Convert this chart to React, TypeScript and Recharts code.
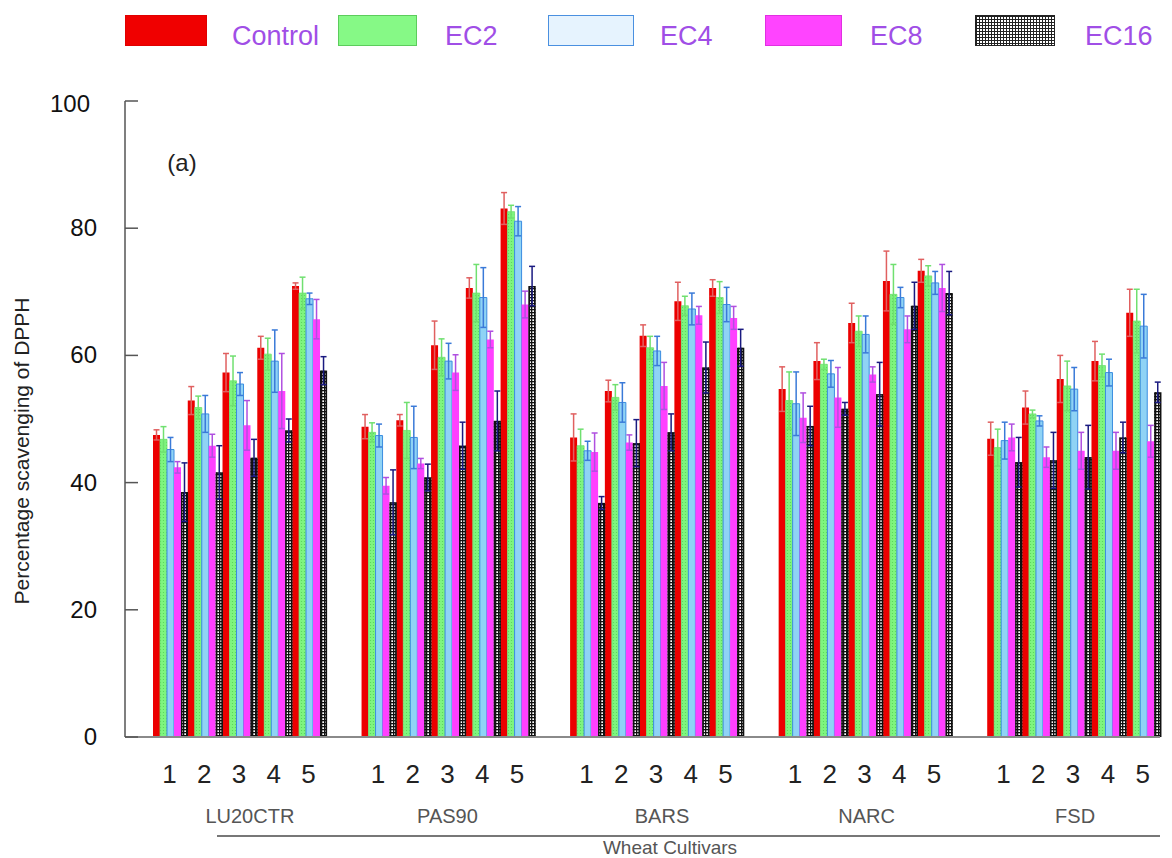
import React from "react";
import { BarChart, Bar, XAxis, YAxis, ErrorBar, Label } from "recharts";

const cultivars = ["LU20CTR", "PAS90", "BARS", "NARC", "FSD"];
const levels = ["1", "2", "3", "4", "5"];
const yTicks = [0, 20, 40, 60, 80, 100];

// values in cultivar order, levels 1..5 inside each cultivar
const control = [47.5, 52.9, 57.3, 61.2, 70.9, 48.8, 49.8, 61.6, 70.6, 83.1, 47.1, 54.4, 63.1, 68.5, 70.6, 54.7, 59.1, 65.1, 71.7, 73.3, 46.9, 51.8, 56.3, 59.1, 66.7];
const ec2 = [46.8, 51.8, 56.0, 60.2, 69.8, 47.9, 48.2, 59.7, 69.8, 82.6, 45.8, 53.4, 61.2, 67.8, 69.1, 52.9, 58.6, 63.8, 69.6, 72.5, 45.5, 50.8, 55.2, 58.4, 65.4];
const ec4 = [45.2, 50.8, 55.5, 59.1, 68.9, 47.4, 47.1, 59.1, 69.1, 81.1, 45.0, 52.6, 60.7, 67.3, 68.0, 52.4, 57.1, 63.3, 69.1, 71.4, 46.6, 49.7, 54.7, 57.3, 64.6];
const ec8 = [42.4, 45.8, 49.0, 54.4, 65.7, 39.5, 43.0, 57.3, 62.5, 68.0, 44.8, 46.3, 55.2, 66.3, 65.9, 50.2, 53.4, 57.0, 64.1, 70.6, 47.1, 44.0, 45.0, 45.0, 46.5];
const ec16 = [38.5, 41.6, 43.9, 48.2, 57.6, 36.9, 40.8, 45.8, 49.7, 70.9, 36.8, 46.2, 47.9, 58.1, 61.2, 48.9, 51.6, 53.9, 67.8, 69.8, 43.2, 43.5, 44.0, 47.1, 54.2];

const controlErr = [0.8, 2.2, 3.0, 1.8, 0.5, 1.9, 0.9, 3.8, 1.6, 2.5, 3.7, 1.7, 1.7, 3.0, 1.3, 3.5, 2.9, 3.1, 4.7, 1.8, 2.6, 2.6, 3.7, 3.1, 3.7];
const ec2Err = [2.0, 1.8, 3.9, 2.5, 2.5, 1.5, 4.4, 2.9, 4.5, 1.0, 2.6, 2.0, 1.8, 1.5, 2.5, 4.5, 0.8, 2.4, 4.7, 1.6, 2.9, 0.6, 3.9, 1.8, 5.0];
const ec4Err = [1.9, 2.9, 1.8, 4.9, 0.9, 1.8, 4.9, 2.8, 4.7, 2.3, 1.5, 3.1, 2.3, 2.5, 2.7, 5.0, 2.1, 2.9, 1.6, 1.8, 2.9, 0.8, 3.4, 2.1, 5.0];
const ec8Err = [0.9, 1.8, 3.9, 5.9, 3.1, 1.3, 0.8, 2.8, 1.3, 2.1, 3.0, 1.2, 3.7, 1.4, 1.8, 3.9, 4.7, 1.2, 2.1, 3.7, 2.1, 1.6, 2.9, 2.9, 2.5];
const ec16Err = [4.6, 4.2, 2.9, 1.8, 2.2, 5.1, 2.1, 3.7, 4.7, 3.1, 1.0, 3.7, 2.9, 4.0, 2.9, 3.1, 1.0, 5.0, 3.7, 3.4, 3.9, 4.4, 5.0, 2.4, 1.6];

// small nudges for the cultivar names under the axis
const groupLabelDx = [11, 0, 6, 2, 2];

const rows: any[] = [];
cultivars.forEach((c, g) => {
  levels.forEach((lv, l) => {
    const i = g * levels.length + l;
    rows.push({
      key: `${c}-${lv}`,
      level: lv,
      group: l === 2 ? g : -1,
      control: control[i],
      ec2: ec2[i],
      ec4: ec4[i],
      ec8: ec8[i],
      ec16: ec16[i],
      controlErr: controlErr[i],
      ec2Err: ec2Err[i],
      ec4Err: ec4Err[i],
      ec8Err: ec8Err[i],
      ec16Err: ec16Err[i],
    });
  });
  // empty slot between cultivars
  if (g < cultivars.length - 1) rows.push({ key: `gap-${g}`, level: "", group: -1 });
});

const XTick = (props: any) => {
  const { x, y, payload } = props;
  const row = rows[payload.index];
  if (!row) return null;
  return (
    <g>
      <text x={x} y={y + 46} textAnchor="middle" fontSize={26} fill="#222">
        {row.level}
      </text>
      {row.group >= 0 && (
        <text x={x + groupLabelDx[row.group]} y={y + 86} textAnchor="middle" fontSize={20} fill="#555">
          {cultivars[row.group]}
        </text>
      )}
    </g>
  );
};

const YTick = (props: any) => {
  const { x, y, payload } = props;
  const top = payload.value === 100;
  return (
    <g>
      <line x1={x + 28} x2={x + 41} y1={y} y2={y} stroke="#555" strokeWidth={1.5} />
      <text x={top ? x - 7 : x} y={y} dy={top ? 11 : 8} textAnchor="end" fontSize={24} fill="#111">
        {payload.value}
      </text>
    </g>
  );
};

const YTitle = (props: any) => {
  const { viewBox } = props;
  const cy = viewBox.y + viewBox.height / 2 + 32;
  return (
    <g>
      <text transform={`translate(29, ${cy}) rotate(-90)`} textAnchor="middle" fontSize={21} fill="#222">
        Percentage scavenging of DPPH
      </text>
      <text x={viewBox.x + viewBox.width + 57} y={viewBox.y + 70} textAnchor="middle" fontSize={24} fill="#222">
        (a)
      </text>
    </g>
  );
};

const XTitle = (props: any) => {
  const { viewBox } = props;
  return (
    <g>
      <line x1={viewBox.x + 92} x2={viewBox.x + viewBox.width} y1={viewBox.y + 99} y2={viewBox.y + 99} stroke="#777" strokeWidth={2} />
      <text x={670} y={viewBox.y + 117} textAnchor="middle" fontSize={19} fill="#555">
        Wheat Cultivars
      </text>
    </g>
  );
};

const GridBar = (props: any) => {
  const { x, y, width, height } = props;
  if (!height || height <= 0) return null;
  return (
    <g>
      <rect x={x} y={y} width={width} height={height} fill="url(#gridPat)" />
      <rect x={x + 0.7} y={y + 0.7} width={width - 1.4} height={height - 1.4} fill="none" stroke="#111" strokeWidth={1.5} />
    </g>
  );
};

const legendItems = [
  { name: "Control", left: 125, w: 82, textLeft: 232, style: { background: "#f00000", border: "1px solid #e00000" } },
  { name: "EC2", left: 338, w: 79, textLeft: 445, style: { background: "#86f986", border: "1px solid #5ccc5c" } },
  { name: "EC4", left: 548, w: 86, textLeft: 660, style: { background: "#e6f3fe", border: "1.5px solid #4a90e0" } },
  { name: "EC8", left: 765, w: 77, textLeft: 870, style: { background: "#ff44ff", border: "1px solid #e030e0" } },
  {
    name: "EC16",
    left: 975,
    w: 80,
    textLeft: 1085,
    style: {
      backgroundColor: "#fff",
      backgroundImage: "linear-gradient(#222 1px, transparent 1px), linear-gradient(90deg, #222 1px, transparent 1px)",
      backgroundSize: "3px 3px",
      border: "1px solid #222",
    },
  },
];

export default function App() {
  return (
    <div style={{ position: "absolute", left: 0, top: 0, width: 1172, height: 858, background: "#fff", fontFamily: "'Liberation Sans', Arial, sans-serif" }}>
      {legendItems.map((it) => (
        <React.Fragment key={it.name}>
          <div style={{ position: "absolute", left: it.left, top: 15, width: it.w, height: 31, boxSizing: "border-box", ...it.style }} />
          <div style={{ position: "absolute", left: it.textLeft, top: 21, fontSize: 27, color: "#a04ee6", lineHeight: "30px" }}>{it.name}</div>
        </React.Fragment>
      ))}
      <BarChart
        width={1172}
        height={858}
        data={rows}
        margin={{ top: 101, right: 12, bottom: 0, left: 0 }}
        barCategoryGap={1}
        barGap={0}
      >
        <defs>
          <pattern id="gridPat" width="3" height="3" patternUnits="userSpaceOnUse">
            <rect width="3" height="3" fill="#fff" />
            <rect width="3" height="1.3" fill="#111" />
            <rect width="1.3" height="3" fill="#111" />
          </pattern>
          <pattern id="dotPat" width="3" height="3" patternUnits="userSpaceOnUse">
            <rect width="3" height="3" fill="#7ef57e" />
            <circle cx="1.5" cy="1.5" r="0.6" fill="#56d456" />
          </pattern>
        </defs>
        <XAxis
          dataKey="key"
          height={121}
          interval={0}
          tickLine={false}
          tickSize={0}
          tickMargin={0}
          tick={<XTick />}
          axisLine={{ stroke: "#8a8a8a", strokeWidth: 2 }}
          padding={{ left: 27, right: 0 }}
        >
          <Label content={<XTitle />} />
        </XAxis>
        <YAxis
          width={125}
          domain={[0, 100]}
          ticks={yTicks}
          tickLine={false}
          tickSize={0}
          tickMargin={28}
          tick={<YTick />}
          axisLine={{ stroke: "#555", strokeWidth: 1.5 }}
        >
          <Label content={<YTitle />} />
        </YAxis>
        <Bar dataKey="control" name="Control" fill="#ec0000" isAnimationActive={false}>
          <ErrorBar dataKey="controlErr" width={3} stroke="#e06060" strokeWidth={1.5} />
        </Bar>
        <Bar dataKey="ec2" name="EC2" fill="url(#dotPat)" stroke="#6ee06e" strokeWidth={0.8} isAnimationActive={false}>
          <ErrorBar dataKey="ec2Err" width={3} stroke="#70e070" strokeWidth={1.5} />
        </Bar>
        <Bar dataKey="ec4" name="EC4" fill="#8fd3f5" stroke="#3b8de0" strokeWidth={1} isAnimationActive={false}>
          <ErrorBar dataKey="ec4Err" width={3} stroke="#3a7ad8" strokeWidth={1.5} />
        </Bar>
        <Bar dataKey="ec8" name="EC8" fill="#ff40ff" isAnimationActive={false}>
          <ErrorBar dataKey="ec8Err" width={3} stroke="#b050e0" strokeWidth={1.5} />
        </Bar>
        <Bar dataKey="ec16" name="EC16" shape={<GridBar />} isAnimationActive={false}>
          <ErrorBar dataKey="ec16Err" width={3} stroke="#1a1a80" strokeWidth={1.5} />
        </Bar>
      </BarChart>
    </div>
  );
}
